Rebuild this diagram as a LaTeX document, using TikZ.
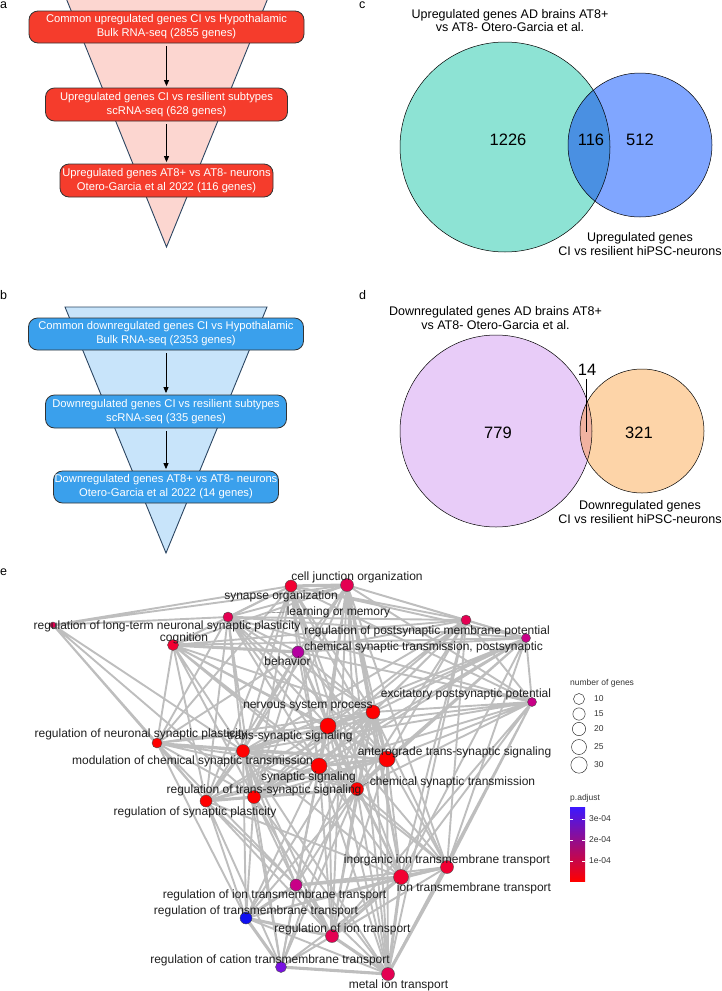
\documentclass[tikz,border=0pt]{standalone}
\usepackage{fontspec}
\setmainfont{Liberation Sans}
\usepackage{tikz}
\usetikzlibrary{arrows.meta}
\usetikzlibrary{backgrounds}
\definecolor{upbox}{RGB}{245,60,44}
\definecolor{upfunnel}{RGB}{252,214,208}
\definecolor{downbox}{RGB}{58,160,236}
\definecolor{downfunnel}{RGB}{200,228,250}
\definecolor{funnelline}{RGB}{44,70,98}
\definecolor{vennteal}{RGB}{141,227,212}
\definecolor{vennblue}{RGB}{128,166,255}
\definecolor{vennmid}{RGB}{74,144,226}
\definecolor{vennlilac}{RGB}{232,204,248}
\definecolor{vennpeach}{RGB}{253,212,168}
\definecolor{vennsalmon}{RGB}{241,178,160}
\definecolor{linkgray}{RGB}{190,190,190}
\definecolor{pa}{RGB}{255,0,0}
\definecolor{pb}{RGB}{242,0,50}
\definecolor{pc}{RGB}{228,0,82}
\definecolor{pd}{RGB}{200,0,135}
\definecolor{pe}{RGB}{180,0,160}
\definecolor{pf}{RGB}{120,16,225}
\definecolor{pg}{RGB}{16,16,240}
\definecolor{barblue}{RGB}{60,24,255}
\tikzstyle{stage}=[draw=black!80, line width=0.8pt, rounded corners=9pt, text=white, align=center, inner sep=0pt, font=\fontsize{11.2}{14}\selectfont]
\tikzstyle{upstage}=[stage, fill=upbox]
\tikzstyle{downstage}=[stage, fill=downbox]
\tikzstyle{funnel}=[draw=funnelline, line width=0.9pt]
\tikzstyle{flow}=[-{Triangle[length=6pt,width=5pt]}, line width=0.8pt, shorten <=3pt, shorten >=1.5pt]
\tikzstyle{venntext}=[align=center, inner sep=0pt, font=\fontsize{12.5}{13.5}\selectfont]
\tikzstyle{vennnum}=[inner sep=0pt, font=\fontsize{16.5}{18}\selectfont]
\tikzstyle{panel}=[anchor=west, inner sep=0pt, font=\fontsize{12.5}{14}\selectfont]
\tikzstyle{term}=[circle, draw=black!70, line width=0.4pt, inner sep=0pt]
\tikzstyle{termlabel}=[anchor=base, inner sep=0pt, text=black!88, font=\fontsize{12}{14}\selectfont]
\tikzstyle{link}=[draw=linkgray, line width=1.9pt, line cap=round]
\tikzstyle{thicklink}=[link, line width=3.1pt]
\tikzstyle{legendtext}=[anchor=west, inner sep=0pt, text=black!80, font=\fontsize{8.5}{10}\selectfont]
\tikzstyle{legendring}=[circle, draw=black!80, line width=0.5pt, inner sep=0pt]

\begin{document}
\begin{tikzpicture}[x=1pt, y=-1pt]
        \useasboundingbox (0,0) rectangle (722,991);

        \node[panel] (pa-a) at (0,5) {a};
        \node[panel] (pa-b) at (0,295) {b};
        \node[panel] (pa-c) at (359,5) {c};
        \node[panel] (pa-d) at (359,295) {d};
        \node[panel] (pa-e) at (0,572) {e};

        \draw[funnel, fill=upfunnel] (66,-2) -- (268,-2) -- (166.5,247) -- cycle;
        \node[upstage, minimum width=275pt, minimum height=32pt] (up1) at (166.5,27) {Common upregulated genes CI vs Hypothalamic\\Bulk RNA-seq (2855 genes)};
        \node[upstage, minimum width=242pt, minimum height=33pt] (up2) at (166.5,104.5) {Upregulated genes CI vs resilient subtypes\\scRNA-seq (628 genes)};
        \node[upstage, minimum width=213pt, minimum height=33pt] (up3) at (166.5,180.5) {Upregulated genes AT8+ vs AT8- neurons\\Otero-Garcia et al 2022 (116 genes)};
        \draw[flow] (up1) -- (up2);
        \draw[flow] (up2) -- (up3);

        \draw[funnel, fill=downfunnel] (65,307) -- (267,307) -- (166,553) -- cycle;
        \node[downstage, minimum width=275pt, minimum height=32pt] (dn1) at (166,334) {Common downregulated genes CI vs Hypothalamic\\Bulk RNA-seq (2353 genes)};
        \node[downstage, minimum width=241pt, minimum height=33pt] (dn2) at (166,411.5) {Downregulated genes CI vs resilient subtypes\\scRNA-seq (335 genes)};
        \node[downstage, minimum width=225pt, minimum height=32pt] (dn3) at (166,487) {Downregulated genes AT8+ vs AT8- neurons\\Otero-Garcia et al 2022 (14 genes)};
        \draw[flow] (dn1) -- (dn2);
        \draw[flow] (dn2) -- (dn3);

        \fill[vennteal] (505,147) circle (105pt);
        \fill[vennblue] (640,145) circle (72pt);
        \begin{scope}
            \clip (505,147) circle (105pt);
            \fill[vennmid] (640,145) circle (72pt);
        \end{scope}
        \draw[line width=0.5pt] (505,147) circle (105pt);
        \draw[line width=0.5pt] (640,145) circle (72pt);
        \node[venntext] (upad) at (510,20.5) {Upregulated genes AD brains AT8+\\vs AT8- Otero-Garcia et al.};
        \node[venntext] (upci) at (640,244) {Upregulated genes\\CI vs resilient hiPSC-neurons};
        \node[vennnum] (upleft) at (508,140) {1226};
        \node[vennnum] (upboth) at (591,140) {116};
        \node[vennnum] (upright) at (640,140) {512};

        \fill[vennlilac] (496,431) circle (96pt);
        \fill[vennpeach] (642,431) circle (62pt);
        \begin{scope}
            \clip (496,431) circle (96pt);
            \fill[vennsalmon] (642,431) circle (62pt);
        \end{scope}
        \draw[line width=0.5pt] (496,431) circle (96pt);
        \draw[line width=0.5pt] (642,431) circle (62pt);
        \node[venntext] (dnad) at (495.5,318) {Downregulated genes AD brains AT8+\\vs AT8- Otero-Garcia et al.};
        \node[venntext] (dnci) at (640,512) {Downregulated genes\\CI vs resilient hiPSC-neurons};
        \node[vennnum] (dnleft) at (498,433) {779};
        \node[vennnum] (dnright) at (639,433) {321};
        \node[vennnum] (dnboth) at (587,370) {14};
        \coordinate (dnlens) at (586,432);
        \draw[line width=0.4pt] ([yshift=-3pt]dnboth.south -| dnlens) -- (dnlens);

        \node[term, fill=pc, minimum size=6pt] (ltp) at (53,625) {};
        \node[term, fill=pb, minimum size=11pt] (cog) at (173,645) {};
        \node[term, fill=pc, minimum size=10pt] (lm) at (228,617) {};
        \node[term, fill=pb, minimum size=12pt] (syo) at (291,586) {};
        \node[term, fill=pc, minimum size=13pt] (cjo) at (347,585) {};
        \node[term, fill=pe, minimum size=12pt] (beh) at (298,652) {};
        \node[term, fill=pc, minimum size=10pt] (rpm) at (466,620) {};
        \node[term, fill=pd, minimum size=9pt] (cstp) at (526,638) {};
        \node[term, fill=pd, minimum size=9pt] (epp) at (532,702) {};
        \node[term, fill=pa, minimum size=14pt] (nsp) at (373,712) {};
        \node[term, fill=pa, minimum size=16pt] (tss) at (328,726) {};
        \node[term, fill=pa, minimum size=10pt] (rnsp) at (157,743) {};
        \node[term, fill=pa, minimum size=13pt] (mcst) at (243,751) {};
        \node[term, fill=pa, minimum size=16pt] (ss) at (319,766) {};
        \node[term, fill=pa, minimum size=16pt] (ats) at (387,759) {};
        \node[term, fill=pa, minimum size=13pt] (cst) at (357,789) {};
        \node[term, fill=pa, minimum size=13pt] (rtss) at (254,797) {};
        \node[term, fill=pa, minimum size=12pt] (rsp) at (206,801) {};
        \node[term, fill=pb, minimum size=13pt] (iitt) at (447,867) {};
        \node[term, fill=pb, minimum size=15pt] (itt) at (401,877) {};
        \node[term, fill=pd, minimum size=12pt] (ritt) at (296,885) {};
        \node[term, fill=pg, minimum size=12pt] (rtt) at (246,918) {};
        \node[term, fill=pc, minimum size=13pt] (rit) at (332,936) {};
        \node[term, fill=pf, minimum size=11pt] (rctt) at (281,967) {};
        \node[term, fill=pc, minimum size=13pt] (mit) at (388,974) {};

        \begin{scope}[on background layer]
        \draw[link] (ltp) -- (syo) (ltp) -- (cjo) (ltp) -- (lm) (ltp) -- (rnsp) (ltp) -- (mcst) (ltp) -- (rsp) (ltp) -- (rtss);
        \draw[link] (cog) -- (lm) (cog) -- (syo) (cog) -- (cjo) (cog) -- (rpm) (cog) -- (cstp) (cog) -- (nsp) (cog) -- (tss) (cog) -- (ss) (cog) -- (mcst) (cog) -- (rnsp) (cog) -- (rsp) (cog) -- (rtss) (cog) -- (ats) (cog) -- (cst);
        \draw[link] (lm) -- (syo) (lm) -- (cjo) (lm) -- (beh) (lm) -- (rpm) (lm) -- (cstp) (lm) -- (epp) (lm) -- (nsp) (lm) -- (tss) (lm) -- (ss) (lm) -- (ats) (lm) -- (cst) (lm) -- (mcst) (lm) -- (rnsp) (lm) -- (rsp) (lm) -- (rtss);
        \draw[link] (syo) -- (beh) (syo) -- (rpm) (syo) -- (cstp) (syo) -- (epp) (syo) -- (nsp) (syo) -- (tss) (syo) -- (ss) (syo) -- (ats) (syo) -- (cst) (syo) -- (mcst) (syo) -- (rtss) (syo) -- (rsp) (syo) -- (rnsp) (syo) -- (itt);
        \draw[link] (cjo) -- (beh) (cjo) -- (rpm) (cjo) -- (cstp) (cjo) -- (epp) (cjo) -- (nsp) (cjo) -- (tss) (cjo) -- (ss) (cjo) -- (ats) (cjo) -- (cst) (cjo) -- (mcst) (cjo) -- (iitt) (cjo) -- (itt) (cjo) -- (mit) (cjo) -- (rit) (cjo) -- (rtss);
        \draw[link] (beh) -- (rpm) (beh) -- (cstp) (beh) -- (nsp) (beh) -- (tss) (beh) -- (ss) (beh) -- (mcst) (beh) -- (rnsp) (beh) -- (rsp) (beh) -- (rtss) (beh) -- (ats) (beh) -- (cst) (beh) -- (epp);
        \draw[link] (rpm) -- (cstp) (rpm) -- (epp) (rpm) -- (nsp) (rpm) -- (tss) (rpm) -- (ss) (rpm) -- (ats) (rpm) -- (cst) (rpm) -- (iitt) (rpm) -- (itt) (rpm) -- (mit) (rpm) -- (mcst) (rpm) -- (rtss);
        \draw[link] (cstp) -- (epp) (cstp) -- (nsp) (cstp) -- (tss) (cstp) -- (ss) (cstp) -- (ats) (cstp) -- (cst) (cstp) -- (iitt) (cstp) -- (itt) (cstp) -- (mcst) (cstp) -- (rtss);
        \draw[link] (epp) -- (nsp) (epp) -- (tss) (epp) -- (ss) (epp) -- (ats) (epp) -- (cst) (epp) -- (iitt) (epp) -- (itt) (epp) -- (mit) (epp) -- (rit) (epp) -- (mcst);
        \draw[link] (nsp) -- (cst) (nsp) -- (mcst) (nsp) -- (rnsp) (nsp) -- (rtss) (nsp) -- (rsp) (nsp) -- (iitt) (nsp) -- (itt) (nsp) -- (mit) (nsp) -- (ritt) (nsp) -- (rtt) (nsp) -- (rit) (nsp) -- (rctt);
        \draw[link] (tss) -- (rnsp) (tss) -- (rtss) (tss) -- (rsp) (tss) -- (iitt) (tss) -- (itt) (tss) -- (rit) (tss) -- (ritt) (tss) -- (mit);
        \draw[link] (rnsp) -- (mcst) (rnsp) -- (ss) (rnsp) -- (rtss) (rnsp) -- (rsp) (rnsp) -- (ats) (rnsp) -- (cst) (rnsp) -- (ritt) (rnsp) -- (rtt);
        \draw[link] (mcst) -- (ats) (mcst) -- (cst) (mcst) -- (rtss) (mcst) -- (ritt) (mcst) -- (rtt) (mcst) -- (rit) (mcst) -- (rctt) (mcst) -- (mit) (mcst) -- (itt);
        \draw[link] (ss) -- (rsp) (ss) -- (itt) (ss) -- (iitt) (ss) -- (ritt) (ss) -- (rtt) (ss) -- (rit) (ss) -- (rctt) (ss) -- (mit);
        \draw[link] (ats) -- (rtss) (ats) -- (rsp) (ats) -- (iitt) (ats) -- (itt) (ats) -- (mit) (ats) -- (rit);
        \draw[link] (cst) -- (rsp) (cst) -- (itt) (cst) -- (iitt) (cst) -- (ritt) (cst) -- (rit) (cst) -- (mit) (cst) -- (rctt) (cst) -- (rtt);
        \draw[link] (rtss) -- (ritt) (rtss) -- (rtt) (rtss) -- (rit) (rtss) -- (rctt) (rtss) -- (mit);
        \draw[link] (rsp) -- (ritt) (rsp) -- (rtt) (rsp) -- (rit) (rsp) -- (rctt) (rsp) -- (itt);
        \draw[link] (iitt) -- (ritt) (iitt) -- (rit) (iitt) -- (rctt) (iitt) -- (rtt) (itt) -- (rtt) (itt) -- (rctt) (ritt) -- (rctt) (ritt) -- (mit) (rtt) -- (mit) (rit) -- (rctt);
        \draw[thicklink] (nsp) -- (tss) (nsp) -- (ss) (nsp) -- (ats) (tss) -- (ss) (tss) -- (ats) (tss) -- (cst) (tss) -- (mcst) (ss) -- (cst) (ss) -- (ats) (ss) -- (mcst) (ss) -- (rtss) (ats) -- (cst) (rtss) -- (cst) (rtss) -- (rsp) (rsp) -- (mcst) (syo) -- (cjo) (cog) -- (beh);
        \draw[thicklink] (iitt) -- (itt) (iitt) -- (mit) (itt) -- (rit) (itt) -- (mit) (itt) -- (ritt) (rit) -- (mit) (ritt) -- (rit) (ritt) -- (rtt) (rtt) -- (rit) (rtt) -- (rctt) (rctt) -- (mit);
        \end{scope}

        \node[termlabel] (ltplab) at (167,629) {regulation of long-term neuronal synaptic plasticity};
        \node[termlabel] (cjolab) at (357,580) {cell junction organization};
        \node[termlabel] (syolab) at (281,599) {synapse organization};
        \node[termlabel] (lmlab) at (338.5,615) {learning or memory};
        \node[termlabel] (coglab) at (184,641) {cognition};
        \node[termlabel] (behlab) at (287.5,665) {behavior};
        \node[termlabel] (rpmlab) at (427,634) {regulation of postsynaptic membrane potential};
        \node[termlabel] (cstplab) at (423.5,650) {chemical synaptic transmission, postsynaptic};
        \node[termlabel] (epplab) at (466,697) {excitatory postsynaptic potential};
        \node[termlabel] (nsplab) at (308,708) {nervous system process};
        \node[termlabel] (rnsplab) at (141,737) {regulation of neuronal synaptic plasticity};
        \node[termlabel] (tsslab) at (290,739) {trans-synaptic signaling};
        \node[termlabel] (mcstlab) at (192.5,764) {modulation of chemical synaptic transmission};
        \node[termlabel] (atslab) at (454.5,755) {anterograde trans-synaptic signaling};
        \node[termlabel] (sslab) at (308.5,780) {synaptic signaling};
        \node[termlabel] (cstlab) at (452.5,785) {chemical synaptic transmission};
        \node[termlabel] (rtsslab) at (264,793) {regulation of trans-synaptic signaling};
        \node[termlabel] (rsplab) at (195,815) {regulation of synaptic plasticity};
        \node[termlabel] (iittlab) at (447,863) {inorganic ion transmembrane transport};
        \node[termlabel] (ittlab) at (474,891) {ion transmembrane transport};
        \node[termlabel] (rittlab) at (274.5,898) {regulation of ion transmembrane transport};
        \node[termlabel] (rttlab) at (256,914) {regulation of transmembrane transport};
        \node[termlabel] (ritlab) at (342.5,932) {regulation of ion transport};
        \node[termlabel] (rcttlab) at (270,963) {regulation of cation transmembrane transport};
        \node[termlabel] (mitlab) at (398.5,988) {metal ion transport};
        \coordinate (lmtip) at (267,613);
        \draw[black!60, line width=0.4pt] (lmlab.west) -- (lmtip);
        \draw[black!60, line width=0.4pt] (cst) -- ([xshift=-1pt]cstlab.west);

        \node[legendtext] (sizetitle) at (570,683) {number of genes};
        \node[legendring, minimum size=11pt] (g10) at (579,699) {};
        \node[legendring, minimum size=12.3pt] (g15) at (579,714) {};
        \node[legendring, minimum size=13.3pt] (g20) at (579,729) {};
        \node[legendring, minimum size=15pt] (g25) at (579,747) {};
        \node[legendring, minimum size=16.3pt] (g30) at (579,765) {};
        \node[legendtext] at (594,699) {10};
        \node[legendtext] at (594,714) {15};
        \node[legendtext] at (594,729) {20};
        \node[legendtext] at (594,747) {25};
        \node[legendtext] at (594,765) {30};

        \node[legendtext] (padjtitle) at (570,798) {p.adjust};
        \shade[top color=barblue, middle color=pd, bottom color=pa] (570,807) rectangle (585,881);
        \draw[white, line width=0.6pt] (570,819) -- (573,819) (582,819) -- (585,819);
        \draw[white, line width=0.6pt] (570,840) -- (573,840) (582,840) -- (585,840);
        \draw[white, line width=0.6pt] (570,861) -- (573,861) (582,861) -- (585,861);
        \node[legendtext] at (589,819) {3e-04};
        \node[legendtext] at (589,840) {2e-04};
        \node[legendtext] at (589,861) {1e-04};
    \end{tikzpicture}
\end{document}
